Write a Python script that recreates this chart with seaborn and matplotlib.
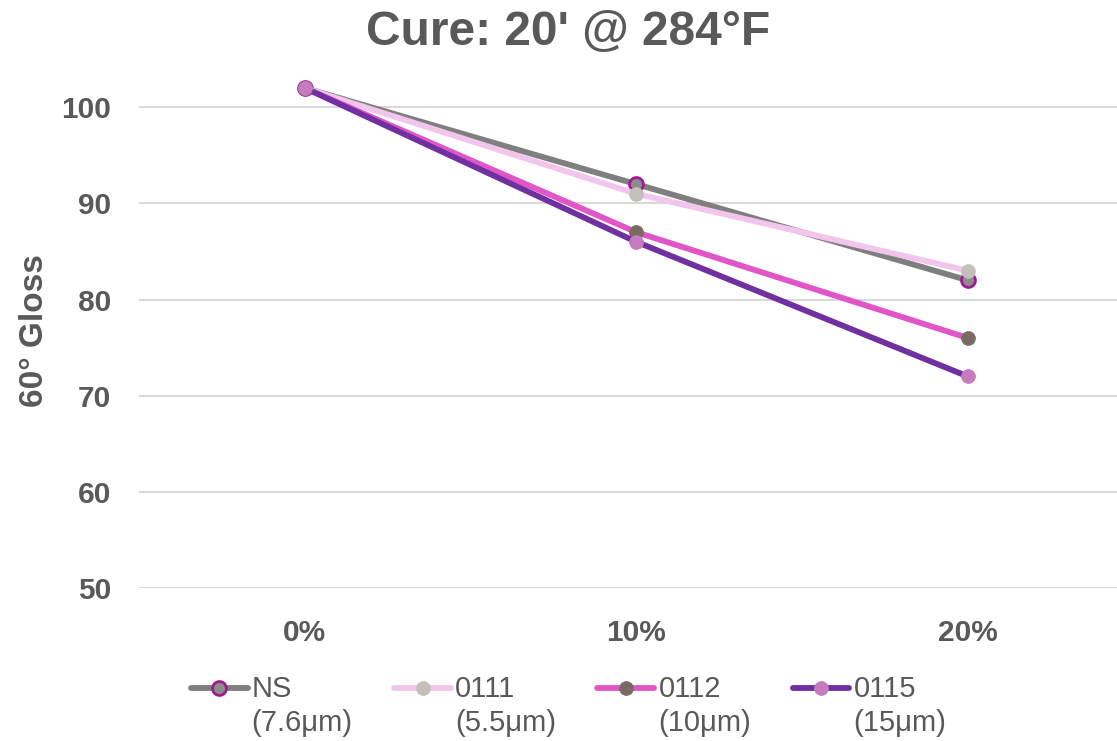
import matplotlib
matplotlib.use("Agg")
import matplotlib.pyplot as plt
from matplotlib.lines import Line2D
from matplotlib.legend_handler import HandlerLine2D
import seaborn as sns
import pandas as pd

categories = ["0%", "10%", "20%"]
series_names = ["NS\n(7.6μm)", "0111\n(5.5μm)", "0112\n(10μm)", "0115\n(15μm)"]
ns_vals = [102, 92, 82]
v0111 = [102, 91, 83]
v0112 = [102, 87, 76]
v0115 = [102, 86, 72]
y_ticks = [50, 60, 70, 80, 90, 100]

all_vals = [ns_vals, v0111, v0112, v0115]
line_colors = ["#7f7f7f", "#f2c6ec", "#e056c8", "#7030a0"]
face_colors = ["#8c8c8c", "#c3bfba", "#7a6b62", "#c57bbd"]
edge_colors = ["#a01a90", "#c3bfba", "#7a6b62", "#c57bbd"]

sns.set_theme(style="white")
plt.rcParams['font.family'] = ['Liberation Sans', 'DejaVu Sans']
txt = "#595959"

fig = plt.figure(figsize=(11.17, 7.41), dpi=100)
ax = fig.add_axes([0.1245, 0.2065, 0.8755, 0.6955])

for name, vals, lc, fc, ec in zip(series_names, all_vals, line_colors, face_colors, edge_colors):
    df = pd.DataFrame({"cat": categories, "val": vals})
    sns.lineplot(data=df, x="cat", y="val", ax=ax, color=lc, linewidth=4.2,
                 marker="o", markersize=10, markerfacecolor=fc, markeredgecolor=ec,
                 markeredgewidth=2 if ec != fc else 0.5, label=name, sort=False)

ax.set_xlim(-0.5, 2.45)
ax.set_ylim(50, 103.6)
ax.set_yticks(y_ticks)
ax.set_yticklabels([str(t) for t in y_ticks])
ax.grid(axis="y", color="#d9d9d9", linewidth=1.5)
ax.set_axisbelow(True)
for s in ax.spines.values():
    s.set_visible(False)
ax.tick_params(axis="both", length=0, labelsize=21.5, labelcolor=txt)
for lab in ax.get_xticklabels() + ax.get_yticklabels():
    lab.set_fontweight("bold")
ax.tick_params(axis="y", pad=20)
ax.tick_params(axis="x", pad=22)
ax.set_xlabel("")
ax.set_ylabel("60° Gloss", fontsize=24, fontweight="bold", color=txt, labelpad=8)

fig.suptitle("Cure: 20' @ 284°F", fontsize=34.5, fontweight="bold", color=txt, x=0.509, y=0.986)


class TopLine(HandlerLine2D):
    def __init__(self, dy, **kw):
        super().__init__(**kw)
        self.dy = dy

    def create_artists(self, legend, orig_handle, xdescent, ydescent, width, height, fontsize, trans):
        arts = super().create_artists(legend, orig_handle, xdescent, ydescent, width, height, fontsize, trans)
        for a in arts:
            a.set_ydata([y + self.dy * fontsize for y in a.get_ydata()])
        return arts


handles, labels = ax.get_legend_handles_labels()
if ax.legend_:
    ax.legend_.remove()
leg_fs = 21
leg = fig.legend(handles, labels, loc="upper center", bbox_to_anchor=(0.509, 0.105), ncol=4,
                 frameon=False, fontsize=leg_fs, handlelength=1.95, handletextpad=0.14,
                 columnspacing=1.42, labelcolor=txt, borderaxespad=0,
                 handler_map={Line2D: TopLine(0.63)})
for t in leg.get_texts():
    t.set_linespacing(1.28)

fig.savefig("out.png", dpi=100)
